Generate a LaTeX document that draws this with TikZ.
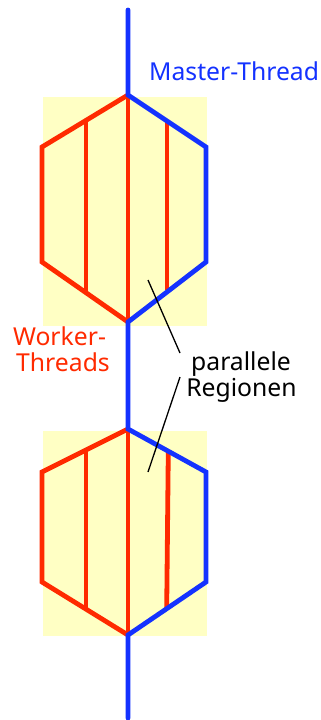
\documentclass[tikz,border=0pt]{standalone}
\usepackage{fontspec}
\setmainfont{Noto Sans}
\definecolor{thrred}{RGB}{255,42,0}
\definecolor{thrblue}{RGB}{20,50,255}
\definecolor{regyellow}{RGB}{255,255,196}
\begin{document}
\begin{tikzpicture}[x=1pt,y=-1pt,
  region/.style={fill=regyellow,draw=none},
  worker/.style={draw=thrred,line width=4.8pt,line join=miter},
  master/.style={draw=thrblue,line width=4.8pt,line join=miter,line cap=round},
  leader/.style={draw=black,line width=1.3pt},
  lbl/.style={font=\fontsize{24.7}{26}\selectfont,inner sep=0pt}]
\useasboundingbox (0,0) rectangle (321,720);
% regions
\fill[region] (42.7,97) rectangle (206.7,326);
\fill[region] (42.7,431) rectangle (206.7,636);
% named points
\coordinate (mtop) at (128,10);
\coordinate (a1) at (128,95);
\coordinate (ar1) at (206,147);
\coordinate (ar2) at (206,262);
\coordinate (ab) at (128,322);
\coordinate (al1) at (42,147);
\coordinate (al2) at (42,262);
\coordinate (b1) at (128,429);
\coordinate (br1) at (206,472);
\coordinate (br2) at (206,582);
\coordinate (bb) at (128,635);
\coordinate (bl1) at (42,472);
\coordinate (bl2) at (42,582);
\coordinate (mbot) at (128,718);
% worker threads (red)
\draw[worker] (a1) -- (al1) -- (al2) -- (ab);
\draw[worker] (a1) -- (ab);
\draw[worker] (86,121) -- (86,292);
\draw[worker] (167,121) -- (167,290);
\draw[worker] (b1) -- (bl1) -- (bl2) -- (bb);
\draw[worker] (b1) -- (bb);
\draw[worker] (86,450) -- (86,609);
\draw[worker] (168.3,451) -- (166.7,608);
% master thread (blue)
\draw[master] (mtop) -- (a1) -- (ar1) -- (ar2) -- (ab) -- (b1) -- (br1) -- (br2) -- (bb) -- (mbot);
% labels
\node[lbl,text=thrblue,anchor=base west] (master) at (149,80) {Master-Thread};
\node[lbl,text=thrred,anchor=base] (worker1) at (59.5,345) {Worker-};
\node[lbl,text=thrred,anchor=base] (worker2) at (63,371.7) {Threads};
\node[lbl,anchor=base] (par1) at (241,370.7) {parallele};
\node[lbl,anchor=base] (par2) at (241.5,396.7) {Regionen};
% leader lines
\coordinate (l1a) at (180,353);
\coordinate (l1b) at (148,280);
\coordinate (l2a) at (180,377);
\coordinate (l2b) at (148,472);
\draw[leader] (l1a) -- (l1b);
\draw[leader] (l2a) -- (l2b);
\end{tikzpicture}
\end{document}
